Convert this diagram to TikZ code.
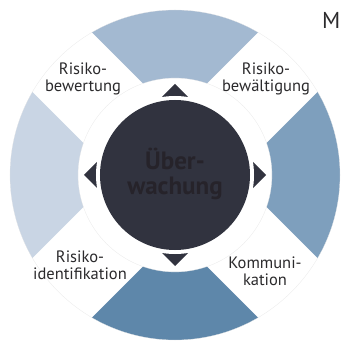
\documentclass[tikz,border=0pt]{standalone}
\usepackage{fontspec}
\setmainfont{PT Sans}
\usepackage{tikz}
\definecolor{bandtop}{HTML}{A3B9D1}
\definecolor{bandright}{HTML}{7E9FBD}
\definecolor{bandbottom}{HTML}{5E87AA}
\definecolor{bandleft}{HTML}{C9D5E4}
\definecolor{hubfill}{HTML}{31333F}
\definecolor{hubtext}{HTML}{26232A}
\definecolor{labtext}{HTML}{2B2A2C}
\tikzset{
  lab/.style={align=center, text=labtext, font=\fontsize{16.5}{17}\selectfont, inner sep=0pt},
  hubtxt/.style={align=center, text=hubtext, font=\fontsize{25}{25}\selectfont\bfseries, inner sep=0pt},
  tri/.style={fill=hubfill},
  guide/.style={very thin, gray!20},
}
\newcommand{\band}[3]{%
  \fill[#3] (#1:165) arc (#1:#2:165) -- (#2:97) arc (#2:#1:97) -- cycle;
}

\begin{document}
\begin{tikzpicture}[x=1pt,y=1pt]
  \useasboundingbox (-175,-167) rectangle (167,175);
  % ring segments
  \band{45}{135}{bandtop}
  \band{-45}{45}{bandright}
  \band{225}{315}{bandbottom}
  \band{135}{225}{bandleft}
  % white diagonal gaps
  \begin{scope}
    \clip (0,0) circle (166);
    \fill[white, rotate=45] (-170,-42) rectangle (170,42);
    \fill[white, rotate=-45] (-170,-42) rectangle (170,42);
  \end{scope}
  \draw[guide] (0,0) circle (165);
  \draw[guide] (0,0) circle (97);
  % arrow heads round the hub
  \foreach \a in {0,90,180,270}
    \fill[tri, rotate=\a] (0,91) -- (16,75) -- (-16,75) -- cycle;
  \fill[white] (0,0) circle (79);
  \node[circle, fill=hubfill, minimum size=150, inner sep=0pt] (hub) at (0,0) {};
  \node[hubtxt] (ueb) at (0,1) {Über-\\wachung};
  % labels
  \node[lab] (bew) at (-92,96) {Risiko-\\bewertung};
  \node[lab] (bewa) at (91,96) {Risiko-\\bewältigung};
  \node[lab] (ident) at (-95,-90) {Risiko-\\identifikation};
  \node[lab] (komm) at (90,-96) {Kommuni-\\kation};
  \node[anchor=base west, text=labtext, font=\fontsize{23}{23}\selectfont, inner sep=0pt] (m) at (147,146) {M};
\end{tikzpicture}
\end{document}
